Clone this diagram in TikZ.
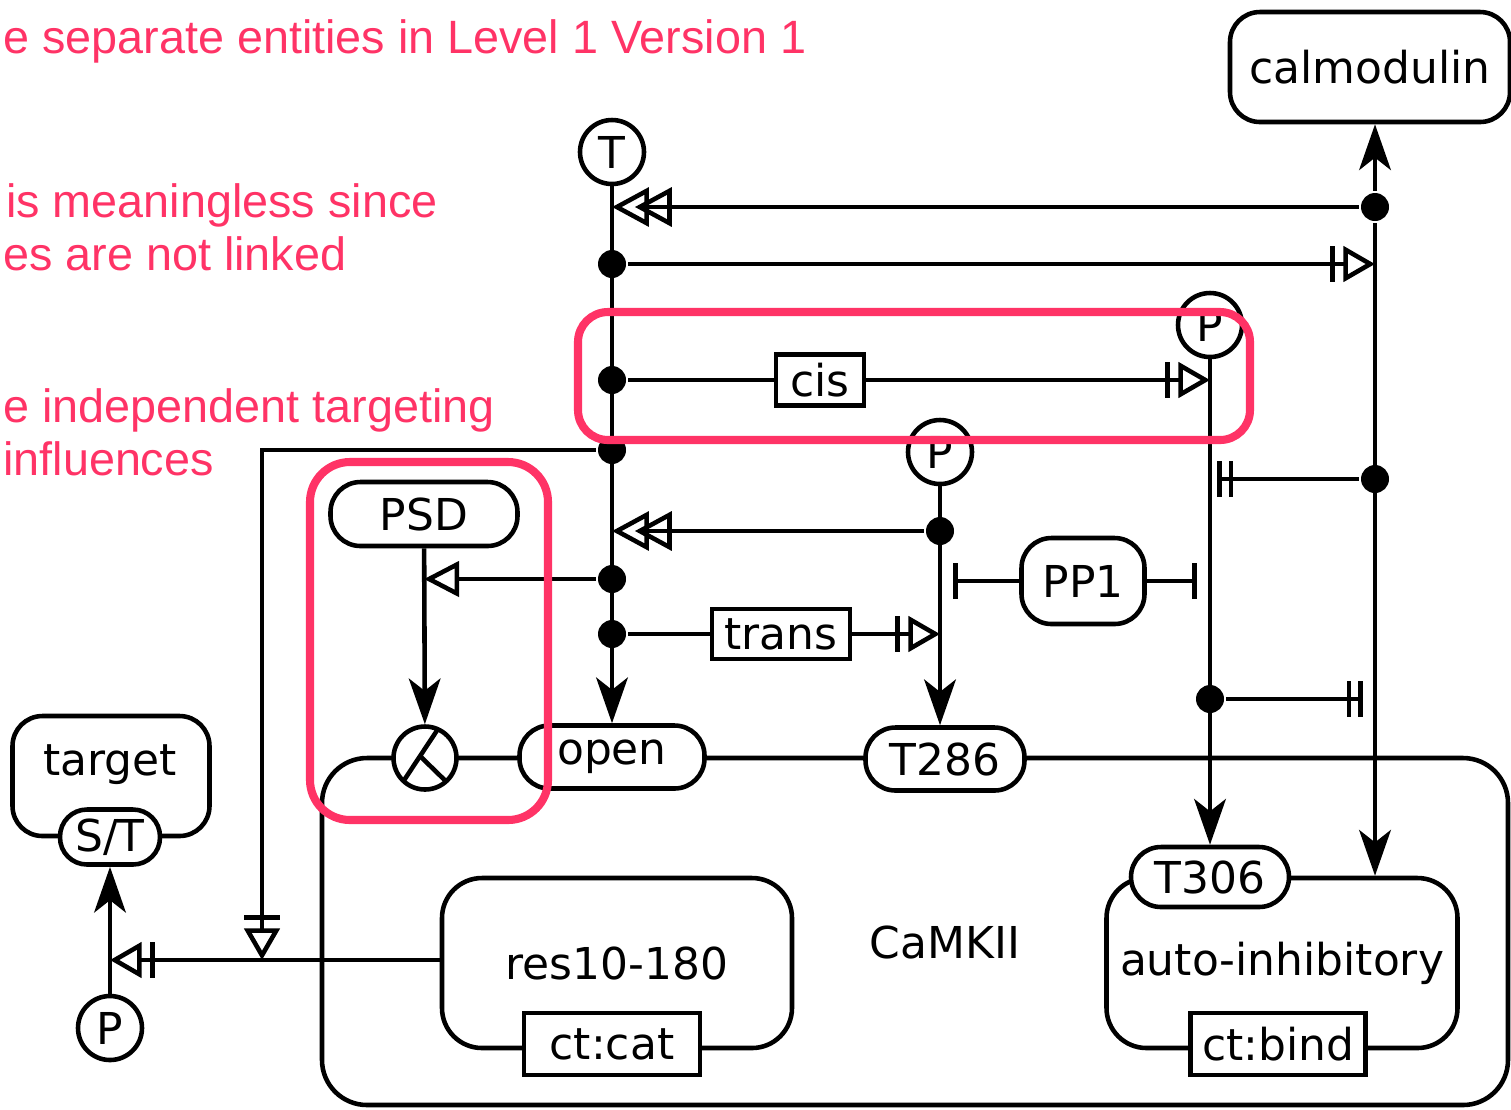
\documentclass[tikz,border=0pt]{standalone}
\usepackage{fontspec}
\setmainfont{DejaVu Sans}
\newfontfamily\notefont{Liberation Sans}
\usepackage{tikz}
\usetikzlibrary{arrows.meta,positioning,calc}
\definecolor{hilite}{HTML}{FF3366}

\begin{document}
\begin{tikzpicture}[x=0.1mm,y=-0.1mm,
   line width=1.3pt,
   font=\fontsize{12.5}{15}\selectfont,
   ent/.style={draw,rounded corners=3mm,fill=white,inner sep=0pt},
   pill/.style={draw,rounded corners=3mm,fill=white,minimum height=6.3mm,inner sep=0pt},
   sv/.style={circle,draw,fill=white,minimum size=6.4mm,inner sep=0pt},
   ui/.style={draw,fill=white,minimum height=6mm,inner sep=0pt},
   dot/.style={circle,fill,minimum size=2.8mm,inner sep=0pt},
   note/.style={text=hilite,font=\notefont\fontsize{13.3}{16}\selectfont,anchor=base west,inner sep=0pt},
   hbox/.style={draw=hilite,line width=2.3pt,rounded corners=3mm},
   produce/.style={-{Stealth[length=13pt,width=9pt,inset=3.5pt]}},
   stim/.style={-{Triangle[open,length=10pt,width=10pt]}},
   needstim/.style={-{Bar[width=10pt,sep=2.5pt]Triangle[open,length=9pt,width=10pt]}},
   inhib/.style={-{Bar[width=10pt]}},
   absinhib/.style={-{Bar[width=10pt,sep=2pt]Bar[width=10pt]}},
   absstim/.style={-{Triangle[open,length=10.5pt,width=11pt,sep=-4pt]Triangle[open,length=10.5pt,width=11pt]}}]
  \useasboundingbox (0,0) rectangle (1511,1109);
  \clip (0,0) rectangle (1511,1109);
  % notes
  \node[note] (n1) at (1,53) {e separate entities in Level 1 Version 1};
  \node[note] (n2) at (4,217) {is meaningless since};
  \node[note] (n3) at (1,270) {es are not linked};
  \node[note] (n4) at (1,422) {e independent targeting};
  \node[note] (n5) at (1,475) {influences};
  % CaMKII complex
  \node[draw,rounded corners=4.5mm,minimum width=118.6mm,minimum height=34.7mm,inner sep=0pt] (camk) at (915,931.5) {};
  \node (camklbl) at (945,942) {CaMKII};
  \node[ent,rounded corners=4mm,minimum width=35mm,minimum height=17mm] (res) at (617,963) {res10-180};
  \node[ui,minimum width=17.6mm,minimum height=6.2mm] (ctcat) at (612,1044) {ct:cat};
  \node[ent,rounded corners=4mm,minimum width=35.1mm,minimum height=17mm] (autoinh) at (1282,963) {auto-inhibitory};
  \node[ui,minimum width=17.5mm,minimum height=6.2mm] (ctbind) at (1278,1044) {ct:bind};
  \node[pill,minimum width=15.8mm,minimum height=6mm] (t306) at (1210,877) {T306};
  \node[sv,minimum size=6.3mm] (modc) at (425,758) {};
  \node[pill,minimum width=18.5mm] (open) at (612,757) {open};
  \node[pill,minimum width=15.9mm] (t286) at (945,759) {T286};
  \draw ($(modc.center)+(227:3.15mm)$) -- ($(modc.center)+(66:3.15mm)$);
  \draw ($(modc.center)+(-0.5mm,0.2mm)$) -- ($(modc.center)+(-48:3.15mm)$);
  % other entities
  \node[ent,minimum width=28mm,minimum height=11mm] (calm) at (1370,67) {calmodulin};
  \node[ent,minimum width=12.3mm,minimum height=8.6mm] (pp1) at (1083,581) {PP1};
  \node[pill,minimum width=18.7mm,minimum height=6.4mm] (psd) at (424,514) {PSD};
  \node[sv] (T) at (612,152) {T};
  \node[sv] (Pcis) at (1210,325) {P};
  \node[sv] (Ptr) at (940,452) {P};
  \node[ent,minimum width=19.7mm,minimum height=12mm] (target) at (111,776) {};
  \node (targetlbl) at (110,765) {target};
  \node[pill,minimum width=10mm,minimum height=5.5mm,rounded corners=2.7mm] (st) at (110,837) {S/T};
  \node[sv] (Ptg) at (110,1028) {P};
  \node[ui,minimum width=8.8mm,minimum height=5.1mm] (cis) at (820,380) {cis};
  \node[ui,minimum width=13.8mm,minimum height=5mm] (trans) at (781,634) {trans};
  % branch points
  \node[dot] (d1) at (612,264) {};
  \node[dot] (d2) at (612,380) {};
  \node[dot] (d3) at (612,450) {};
  \node[dot] (d4) at (612,579) {};
  \node[dot] (d5) at (612,634) {};
  \node[dot] (c1) at (1375,207) {};
  \node[dot] (c2) at (1375,479) {};
  \node[dot] (q1) at (940,531) {};
  \node[dot] (p1) at (1210,699) {};
  \coordinate (stx) at (110,960);
  \coordinate (stimpt) at (262,960);
  \coordinate (pp1l) at (953,581);
  \coordinate (pp1r) at (1197,581);
  \coordinate (h1) at (1217,479);
  \coordinate (h2) at (1363,699);
  % arcs
  \draw[produce] (T) -- (open);
  \draw[produce] (c1) -- (c1 |- calm.south);
  \draw[produce] (c1) -- (c1 |- autoinh.north);
  \draw[absstim] (c1) -- (c1 -| T);
  \draw[needstim] (d1) -- (d1 -| c1);
  \draw (d2) -- (cis);
  \draw[needstim] (cis) -- (cis -| Pcis);
  \draw[produce] (Pcis) -- (t306);
  \draw[needstim] (d3) -| (stimpt);
  \draw[produce] (Ptr) -- (Ptr |- t286.north);
  \draw[absstim] (q1) -- (q1 -| T);
  \draw[stim] (d4) -- (d4 -| psd);
  \draw[produce] (psd) -- (modc);
  \draw (d5) -- (trans);
  \draw[needstim] (trans) -- (trans -| Ptr);
  \draw[inhib] (pp1) -- (pp1l);
  \draw[inhib] (pp1) -- (pp1r);
  \draw[absinhib] (c2) -- (h1);
  \draw[absinhib] (p1) -- (h2);
  \draw[needstim] (res.west |- stx) -- (stx);
  \draw[produce] (Ptg) -- (st);
  % highlights
  \draw[hbox] (578,312) rectangle (1250,440);
  \draw[hbox,rounded corners=4mm] (310,462) rectangle (548,820);
\end{tikzpicture}
\end{document}
